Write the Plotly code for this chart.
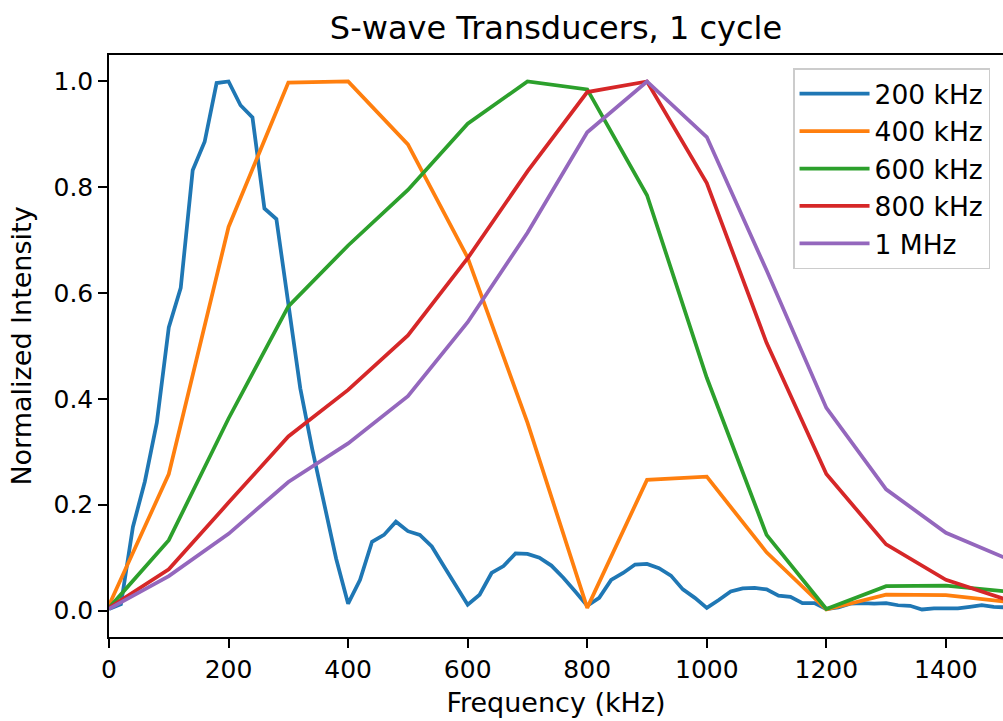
import plotly.graph_objects as go

# ---- data ----
freq_fine = list(range(0, 1501, 20))
s200 = [0.003, 0.012, 0.158, 0.244, 0.355, 0.535, 0.61, 0.832, 0.886, 0.997,
        1.0, 0.955, 0.932, 0.76, 0.74, 0.58, 0.42, 0.305, 0.2, 0.098,
        0.013, 0.058, 0.13, 0.143, 0.168, 0.15, 0.143, 0.121, 0.084, 0.048,
        0.011, 0.03, 0.071, 0.084, 0.108, 0.107, 0.10, 0.085, 0.062, 0.036,
        0.009, 0.024, 0.058, 0.071, 0.087, 0.088, 0.08, 0.066, 0.04, 0.024,
        0.005, 0.02, 0.036, 0.042, 0.043, 0.04, 0.028, 0.026, 0.014, 0.014,
        0.003, 0.006, 0.013, 0.014, 0.013, 0.014, 0.01, 0.009, 0.002, 0.004,
        0.004, 0.004, 0.007, 0.01, 0.007, 0.006]

freq_coarse = list(range(0, 1501, 100))
s400 = [0.01, 0.258, 0.725, 0.998, 1.0, 0.881, 0.667, 0.355, 0.005, 0.247,
        0.253, 0.11, 0.002, 0.03, 0.029, 0.017]
s600 = [0.005, 0.133, 0.363, 0.575, 0.69, 0.795, 0.92, 1.0, 0.985, 0.785,
        0.44, 0.143, 0.003, 0.046, 0.047, 0.036]
s800 = [0.005, 0.078, 0.204, 0.329, 0.417, 0.52, 0.666, 0.83, 0.98, 1.0,
        0.808, 0.506, 0.258, 0.125, 0.058, 0.021]
s1000 = [0.003, 0.065, 0.145, 0.243, 0.316, 0.405, 0.545, 0.714, 0.904, 1.0,
         0.895, 0.643, 0.383, 0.229, 0.147, 0.099]

names = ["200 kHz", "400 kHz", "600 kHz", "800 kHz", "1 MHz"]
colors = ["#1f77b4", "#ff7f0e", "#2ca02c", "#d62728", "#9467bd"]
x_ticks = [0, 200, 400, 600, 800, 1000, 1200, 1400]
y_ticks = [0.0, 0.2, 0.4, 0.6, 0.8, 1.0]

FONT = "DejaVu Sans"

fig = go.Figure()
series = [(freq_fine, s200), (freq_coarse, s400), (freq_coarse, s600),
          (freq_coarse, s800), (freq_coarse, s1000)]
for (xs, ys), name, col in zip(series, names, colors):
    fig.add_trace(go.Scatter(x=xs, y=ys, mode="lines", name=name,
                             line=dict(color=col, width=3.75)))

fig.update_layout(
    width=1003, height=721,
    margin=dict(l=109, r=0, t=54.5, b=83.5),
    paper_bgcolor="white", plot_bgcolor="white",
    font=dict(family=FONT, size=25, color="black"),
    title=dict(text="S-wave Transducers, 1 cycle", x=0.5, xref="paper",
               y=1 - 28 / 721, yref="container", yanchor="middle",
               xanchor="center", font=dict(family=FONT, size=32, color="black")),
    legend=dict(x=0.9855, y=0.977, xanchor="right", yanchor="top",
                bgcolor="rgba(255,255,255,0.8)", bordercolor="#cccccc",
                borderwidth=1.5, itemwidth=70,
                font=dict(family=FONT, size=26.5, color="black")),
    showlegend=True,
)
fig.update_xaxes(
    range=[0, 1495.5], tickvals=x_ticks, ticktext=[str(v) for v in x_ticks],
    showgrid=False, zeroline=False, showline=True, linecolor="black",
    linewidth=2, mirror=True, ticks="outside", ticklen=8.75, tickwidth=2,
    tickcolor="black", tickfont=dict(family=FONT, size=25, color="black"),
    title=dict(text="Frequency (kHz)", standoff=10,
               font=dict(family=FONT, size=27, color="black")),
    automargin=False,
)
fig.update_yaxes(
    range=[-0.05, 1.05], tickvals=y_ticks, ticktext=[f"{v:.1f}" for v in y_ticks],
    showgrid=False, zeroline=False, showline=True, linecolor="black",
    linewidth=2, mirror=False, ticks="outside", ticklen=8.75, tickwidth=2,
    tickcolor="black", tickfont=dict(family=FONT, size=25, color="black"),
    title=dict(text="Normalized Intensity", standoff=14,
               font=dict(family=FONT, size=27, color="black")),
    automargin=False,
)

fig.write_html("out.html")
